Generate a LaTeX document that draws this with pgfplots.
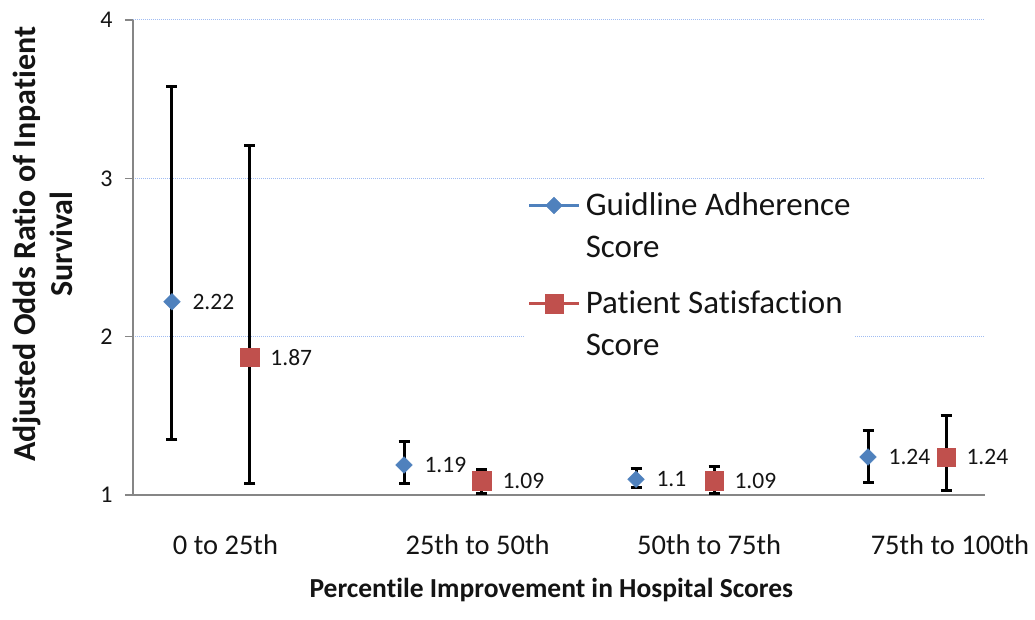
\documentclass[border=0pt]{standalone}
\usepackage{fontspec}
\setmainfont{Carlito}[Ligatures=NoCommon]
\usepackage{pgfplots}
\pgfplotsset{compat=1.18}
\usepackage{pgfplotstable}

\definecolor{gblue}{RGB}{79,129,189}
\definecolor{gred}{RGB}{192,80,77}
\definecolor{axgray}{RGB}{134,134,134}
\definecolor{gridblue}{RGB}{160,188,242}
\definecolor{txt}{RGB}{20,20,20}

% odds ratio, upper and lower extent of the confidence interval
\pgfplotstableread{
x      y     ep    em     lab
-0.168 2.22  1.36  0.87   2.22
0.832  1.19  0.15  0.115  1.19
1.832  1.10  0.07  0.055  1.1
2.832  1.24  0.17  0.16   1.24
}\guideline

\pgfplotstableread{
x      y     ep    em     lab
0.168  1.87  1.34  0.795  1.87
1.168  1.09  0.07  0.078  1.09
2.168  1.09  0.09  0.078  1.09
3.168  1.24  0.26  0.21   1.24
}\satisfaction

\pgfplotsset{
  ci bars/.style={
    error bars/y dir=both, error bars/y explicit,
    error bars/error bar style={line width=3pt, black},
    error bars/error mark options={line width=3pt, black, mark size=5.5pt, rotate=90},
  },
}

% two-line legend text, aligned on its last line
\newcommand{\twolines}[2]{\begin{tabular}[b]{@{}l@{}}#1\\#2\end{tabular}}

\begin{document}
\begin{tikzpicture}
\useasboundingbox (-133pt,-124pt) rectangle (902pt,495pt);
\begin{axis}[
  at={(0pt,0pt)}, anchor=south west,
  scale only axis, width=852pt, height=475pt,
  xmin=-0.336, xmax=3.336, ymin=1, ymax=4,
  axis x line*=bottom, axis y line*=left,
  axis line style={axgray, line width=1.6pt},
  xtick={0.0625,1.149,2.147,3.185},
  xticklabels={0 to 25th, 25th to 50th, 50th to 75th, 75th to 100th},
  x tick style={draw=none},
  ytick={1,2,3,4},
  y tick style={axgray, line width=1.3pt},
  tick align=outside, major tick length=8pt,
  ymajorgrids, grid style={gridblue, line width=1pt, densely dotted},
  /pgf/number format/assume math mode=true,
  xticklabel style={font=\fontsize{28.5}{34}\selectfont, text=txt, yshift=-28pt},
  yticklabel style={font=\fontsize{24}{28}\selectfont, text=txt, xshift=-9pt},
  xlabel={Percentile Improvement in Hospital Scores},
  xlabel style={at={(axis description cs:0.491,-0.2168)}, anchor=base,
    font=\fontsize{27.5}{33}\selectfont\bfseries, text=txt},
  ylabel={Adjusted Odds Ratio of Inpatient\\Survival},
  ylabel style={at={(axis description cs:-0.106,0.528)}, anchor=center, align=center,
    font=\fontsize{32}{37}\selectfont\bfseries, text=txt},
  legend style={at={(axis description cs:0.459,0.657)}, anchor=north west,
    draw=none, fill=white, inner sep=3pt, row sep=25pt, column sep=5pt,
    font=\fontsize{33}{42}\selectfont, text=txt,
    nodes={inner sep=0pt}, cells={anchor=base west}},
  legend image code/.code={%
    \draw[#1, line width=3.5pt, mark=none] (0pt,52pt) -- (50pt,52pt);
    \draw[#1] plot coordinates {(25pt,52pt)};
  },
  nodes near coords, point meta=explicit symbolic,
  nodes near coords style={anchor=west, xshift=17pt, text=txt,
    font=\fontsize{23.5}{28}\selectfont},
]
\addplot[only marks, color=gblue, mark=square*,
  mark options={rotate=45, mark size=5.9pt, fill=gblue, draw=gblue}, ci bars]
  table[x=x, y=y, y error plus=ep, y error minus=em, meta=lab] {\guideline};
\addlegendentry{\twolines{Guidline Adherence}{Score}}
\addplot[only marks, color=gred, mark=square*,
  mark options={mark size=9.3pt, fill=gred, draw=gred}, ci bars]
  table[x=x, y=y, y error plus=ep, y error minus=em, meta=lab] {\satisfaction};
\addlegendentry{\twolines{Patient Satisfaction}{Score}}
\end{axis}
\end{tikzpicture}
\end{document}
